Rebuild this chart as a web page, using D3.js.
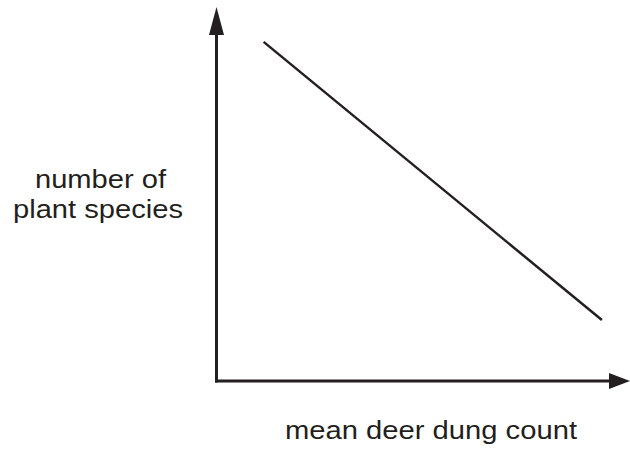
<!DOCTYPE html>
<html>
<head>
<meta charset="utf-8">
<script src="https://cdn.jsdelivr.net/npm/d3@7"></script>
<style>
  body { margin: 0; background: #fff; }
  text { font-family: "Liberation Sans", Arial, sans-serif; fill: #231f20; }
</style>
</head>
<body>
<svg width="630" height="450"></svg>
<script>
// Data: a sketch trend, two end points on an unitless 0-100 scale
const trendX = [11.4, 93.2];
const trendY = [90.2, 16.2];
const yLabel = ["number of", "plant species"];
const xLabel = "mean deer dung count";

const svg = d3.select("svg");
const ink = "#231f20";

// Scales
const x = d3.scaleLinear().domain([0, 100]).range([216.5, 630]);
const y = d3.scaleLinear().domain([0, 100]).range([381, 5]);

// Axes with arrow heads
svg.append("line")
  .attr("x1", x(0)).attr("y1", y(0) + 1.5)
  .attr("x2", x(0)).attr("y2", 30)
  .attr("stroke", ink).attr("stroke-width", 3);
svg.append("path")
  .attr("d", `M${x(0)},7 L${x(0) + 7.5},35 L${x(0) - 7.5},35 Z`)
  .attr("fill", ink);

svg.append("line")
  .attr("x1", x(0) - 1.5).attr("y1", y(0))
  .attr("x2", 612).attr("y2", y(0))
  .attr("stroke", ink).attr("stroke-width", 3);
svg.append("path")
  .attr("d", `M630,${y(0)} L609,${y(0) - 8} L609,${y(0) + 8} Z`)
  .attr("fill", ink);

// Trend line
const pts = trendX.map((v, i) => [v, trendY[i]]);
svg.append("path")
  .datum(pts)
  .attr("fill", "none")
  .attr("stroke", ink)
  .attr("stroke-width", 2.5)
  .attr("d", d3.line().x(d => x(d[0])).y(d => y(d[1])));

// Labels (the source type is a little wider than Arial)
svg.append("text")
  .attr("x", 100.5).attr("y", 188)
  .attr("text-anchor", "middle")
  .attr("font-size", 26)
  .attr("textLength", 131).attr("lengthAdjust", "spacingAndGlyphs")
  .text(yLabel[0]);
svg.append("text")
  .attr("x", 98).attr("y", 218)
  .attr("text-anchor", "middle")
  .attr("font-size", 26)
  .attr("textLength", 170).attr("lengthAdjust", "spacingAndGlyphs")
  .text(yLabel[1]);

svg.append("text")
  .attr("x", 431).attr("y", 439)
  .attr("text-anchor", "middle")
  .attr("font-size", 26)
  .attr("textLength", 292).attr("lengthAdjust", "spacingAndGlyphs")
  .text(xLabel);
</script>
</body>
</html>
